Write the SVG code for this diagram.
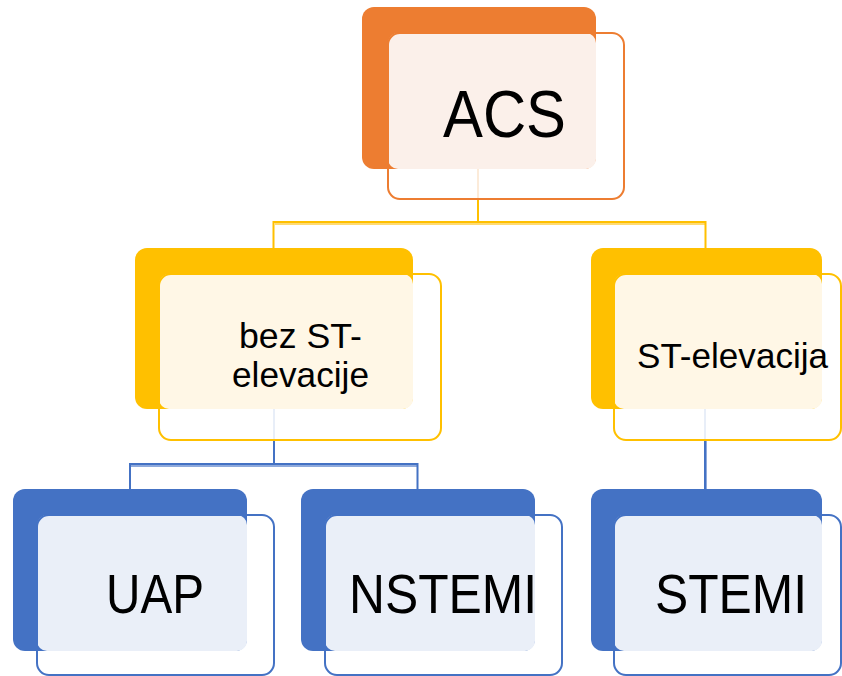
<svg xmlns="http://www.w3.org/2000/svg" width="842" height="676" viewBox="0 0 842 676">
<style>
text{font-family:"Liberation Sans",Arial,sans-serif;fill:#000}
.o-back{fill:#ED7D31}.o-fill{fill:#FBF0EA}.o-front{fill:none;stroke:#ED7D31;stroke-width:2}
.y-back{fill:#FFC000}.y-fill{fill:#FFF7E6}.y-front{fill:none;stroke:#FFC000;stroke-width:2}
.b-back{fill:#4472C4}.b-fill{fill:#EAEFF8}.b-front{fill:none;stroke:#4472C4;stroke-width:2}
.cy{fill:none;stroke:#FFC000;stroke-width:2}
.cyl{fill:none;stroke:#FFDB73;stroke-width:2}
.cb{fill:none;stroke:#4472C4;stroke-width:2}
.cbl{fill:none;stroke:#8FAADC;stroke-width:2}
</style>
<rect width="842" height="676" fill="#fff"/>
<g id="connectors">
<path class="cyl" d="M275 224H705"/>
<path class="cy" d="M478 199V222M273.5 248V222H705.5V248"/>
<path class="cbl" d="M131 466H417"/>
<path class="cb" d="M274 440V464M130 489V464H417.5V489"/>
<path class="cbl" d="M706 440V489" stroke-width="3"/>
<path class="cb" d="M705 440V489" stroke-width="1"/>
</g>
<g id="node-acs">
<rect class="o-back" x="362" y="7" width="234" height="162" rx="12"/>
<rect class="o-fill" x="388" y="33" width="208" height="136" rx="10"/>
<path d="M478 169V199" stroke="#FCEBD9" stroke-width="2"/>
<rect class="o-front" x="388" y="33" width="236" height="166" rx="12"/>
<text x="443" y="137" font-size="67" textLength="123" lengthAdjust="spacingAndGlyphs">ACS</text>
</g>
<g id="node-bez">
<rect class="y-back" x="135" y="248" width="278" height="161" rx="12"/>
<rect class="y-fill" x="159" y="274" width="254" height="135" rx="10"/>
<path d="M274 409V440" stroke="#E8EEF8" stroke-width="2"/>
<rect class="y-front" x="159" y="274" width="282" height="166" rx="12"/>
<text x="239" y="348" font-size="35" textLength="123" lengthAdjust="spacingAndGlyphs">bez ST-</text>
<text x="232" y="387" font-size="35" textLength="137" lengthAdjust="spacingAndGlyphs">elevacije</text>
</g>
<g id="node-st">
<rect class="y-back" x="591" y="248" width="231" height="161" rx="12"/>
<rect class="y-fill" x="614" y="274" width="208" height="135" rx="10"/>
<path d="M705 409V440" stroke="#E8EEF8" stroke-width="2"/>
<rect class="y-front" x="614" y="274" width="227" height="166" rx="12"/>
<text x="637" y="368" font-size="35" textLength="191" lengthAdjust="spacingAndGlyphs">ST-elevacija</text>
</g>
<g id="node-uap">
<rect class="b-back" x="13" y="489" width="234" height="162" rx="12"/>
<rect class="b-fill" x="37" y="515" width="210" height="136" rx="10"/>
<rect class="b-front" x="37" y="515" width="237" height="160" rx="12"/>
<text x="106" y="613" font-size="56" textLength="98" lengthAdjust="spacingAndGlyphs">UAP</text>
</g>
<g id="node-nstemi">
<rect class="b-back" x="301" y="489" width="234" height="162" rx="12"/>
<rect class="b-fill" x="325" y="515" width="210" height="136" rx="10"/>
<rect class="b-front" x="325" y="515" width="237" height="160" rx="12"/>
<text x="349" y="613" font-size="56" textLength="188" lengthAdjust="spacingAndGlyphs">NSTEMI</text>
</g>
<g id="node-stemi">
<rect class="b-back" x="591" y="489" width="231" height="162" rx="12"/>
<rect class="b-fill" x="614" y="515" width="208" height="136" rx="10"/>
<rect class="b-front" x="614" y="515" width="227" height="160" rx="12"/>
<text x="655" y="613" font-size="56" textLength="152" lengthAdjust="spacingAndGlyphs">STEMI</text>
</g>
</svg>
